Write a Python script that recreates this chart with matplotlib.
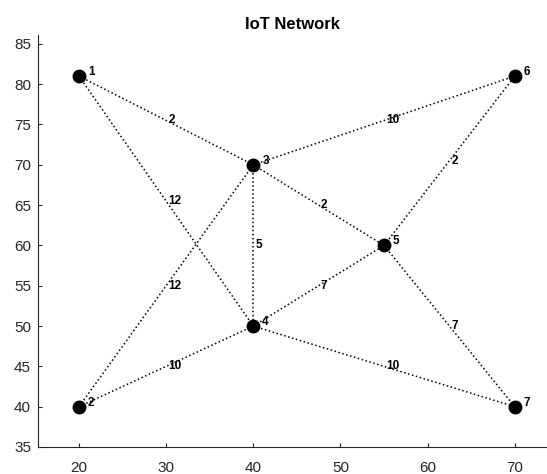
import matplotlib
matplotlib.use("Agg")
import matplotlib.pyplot as plt

plt.rcParams['font.family'] = ['Liberation Sans', 'DejaVu Sans']

# Node coordinates and labels
node_ids = ['1', '2', '3', '4', '5', '6', '7']
node_x = [20, 20, 40, 40, 55, 70, 70]
node_y = [81, 40, 70, 50, 60, 81, 40]

# Edges (source, target) with their weights
edge_src = [1, 1, 2, 2, 3, 3, 3, 4, 4, 5, 5]
edge_dst = [3, 4, 3, 4, 4, 5, 6, 5, 7, 6, 7]
edge_w = [2, 12, 12, 10, 5, 2, 10, 7, 10, 2, 7]

fig = plt.figure(figsize=(5.47, 4.74), dpi=100)
ax = fig.add_axes([38 / 547, 27 / 474, 1 - 38 / 547, (447 - 35) / 474])

for s, d, w in zip(edge_src, edge_dst, edge_w):
    x0, y0 = node_x[s - 1], node_y[s - 1]
    x1, y1 = node_x[d - 1], node_y[d - 1]
    ax.plot([x0, x1], [y0, y1], linestyle=':', color='black', linewidth=1.1, zorder=1)
    ax.annotate(str(w), ((x0 + x1) / 2, (y0 + y1) / 2), xytext=(1.5, 0),
                textcoords='offset points', fontsize=8.5, fontweight='bold',
                ha='left', va='center', zorder=3)

ax.plot(node_x, node_y, 'o', color='black', markersize=9, linestyle='none', zorder=2)
for nid, x, y in zip(node_ids, node_x, node_y):
    ax.annotate(nid, (x, y), xytext=(6.5, 3), textcoords='offset points',
                fontsize=8.5, fontweight='bold', ha='left', va='center')

ax.set_xlim(15.3, 73.7)
ax.set_ylim(35, 86.1)
ax.set_xticks([20, 30, 40, 50, 60, 70])
ax.set_yticks([35, 40, 45, 50, 55, 60, 65, 70, 75, 80, 85])
ax.spines['top'].set_visible(False)
ax.spines['right'].set_visible(False)
for sp in ('left', 'bottom'):
    ax.spines[sp].set_color('#262626')
    ax.spines[sp].set_linewidth(0.8)
ax.tick_params(direction='in', length=3, width=0.8, colors='#262626',
               labelsize=11, labelcolor='#262626')
ax.tick_params(axis='x', pad=10)
ax.tick_params(axis='y', pad=5)
ax.set_title('IoT Network', fontsize=12, fontweight='bold', pad=4)

fig.savefig('out.png', dpi=100)
